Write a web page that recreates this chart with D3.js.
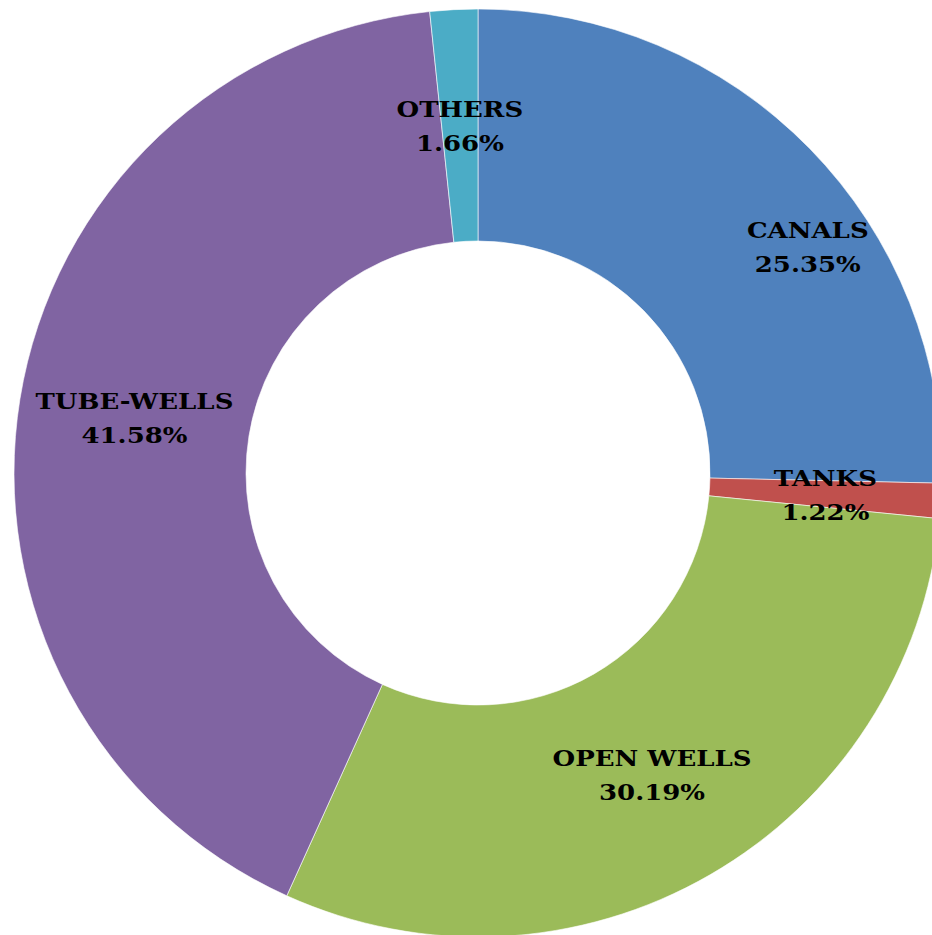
<!DOCTYPE html>
<html>
<head>
<meta charset="utf-8">
<script src="https://cdn.jsdelivr.net/npm/d3@7"></script>
<style>
  body { margin: 0; background: #fff; }
  svg { display: block; }
</style>
</head>
<body>
<svg id="chart" width="932" height="935"></svg>
<script>
var categories = ["CANALS", "TANKS", "OPEN WELLS", "TUBE-WELLS", "OTHERS"]
var shares = [25.35, 1.22, 30.19, 41.58, 1.66]
var colors = ["#4F81BD", "#C0504D", "#9BBB59", "#8064A2", "#4BACC6"]

var width = 932, height = 935
var cx = 478, cy = 473
var outer_r = 464, inner_r = 232
// the canals label sits off its centroid in the original
var label_nudge = {"CANALS": [81, 16]}

var slices = categories.map(function(c, i){ return {name: c, value: shares[i], color: colors[i]} })

var svg = d3.select("#chart")
var g = svg.append("g").attr("transform", "translate(" + cx + "," + cy + ")")

var pie = d3.pie().sort(null).value(function(d){ return d.value })
var arc = d3.arc().innerRadius(inner_r).outerRadius(outer_r)

var arcs = pie(slices)

g.selectAll("path")
    .data(arcs)
    .enter().append("path")
    .attr("d", arc)
    .attr("fill", function(d){ return d.data.color })
    .attr("stroke", "#fff")
    .attr("stroke-width", 0.6)

var labels = g.selectAll("text")
    .data(arcs)
    .enter().append("text")
    .attr("transform", function(d){
        var c = arc.centroid(d)
        var n = label_nudge[d.data.name] || [0, 0]
        return "translate(" + (c[0] + n[0]) + "," + (c[1] + n[1]) + ") scale(1.13,1)"
    })
    .attr("text-anchor", "middle")
    .attr("font-family", "'DejaVu Serif', serif")
    .attr("font-weight", "bold")
    .attr("font-size", 23)
    .attr("fill", "#000")

labels.append("tspan")
    .attr("x", 0)
    .attr("y", -8)
    .text(function(d){ return d.data.name })

labels.append("tspan")
    .attr("x", 0)
    .attr("y", 26)
    .text(function(d){ return d.data.value.toFixed(2) + "%" })
</script>
</body>
</html>
